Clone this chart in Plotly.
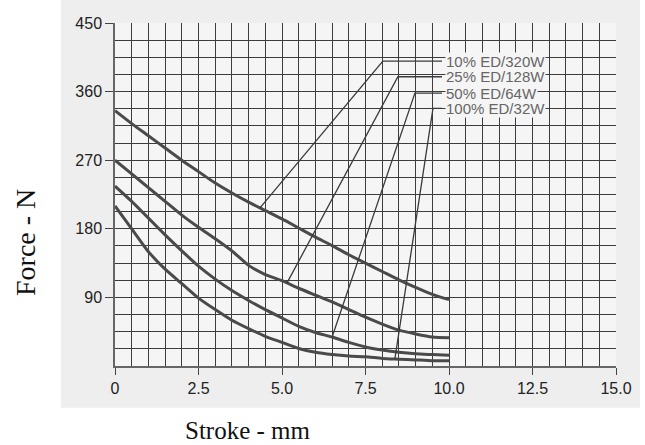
import numpy as np
import plotly.graph_objects as go

# ---- data ----
stroke_mm = [0, 0.5, 1, 1.5, 2, 2.5, 3, 3.5, 4, 4.5, 5, 5.5, 6, 6.5, 7, 7.5, 8, 8.5, 9, 9.5, 10]
force_10 = [335, 318, 302, 286, 270, 255, 240, 227, 215, 204, 193, 181, 169, 158, 146, 135, 124, 113, 103, 94, 87]
force_25 = [270, 252, 234, 216, 198, 182, 167, 151, 132, 120, 112, 102, 93, 84, 74, 64, 55, 47, 42, 38, 37]
force_50 = [236, 216, 194, 172, 151, 131, 114, 99, 86, 74, 63, 52, 44, 38, 31, 25, 21, 18, 16, 15, 14]
force_100 = [210, 180, 150, 127, 108, 89, 74, 60, 49, 39, 31, 23, 18, 15, 13, 12, 10, 9, 8, 7, 7]

series_labels = ["10% ED/320W", "25% ED/128W", "50% ED/64W", "100% ED/32W"]
leader_from_x = [4.34, 5.15, 6.5, 8.38]
leader_bend_x = [8.02, 8.47, 8.98, 9.52]
leader_level = [400, 379.5, 358, 338]
leader_end_x = 9.79
label_x = 9.88

x_tickvals = [0, 2.5, 5, 7.5, 10, 12.5, 15]
x_ticktext = ["0", "2.5", "5.0", "7.5", "10.0", "12.5", "15.0"]
y_tickvals = [90, 180, 270, 360, 450]

curve_color = "#4a4a4a"
grid_color = "#3c3c3c"
plot_bg = "#f5f5f5"
scan_bg = "#eeeeee"

fig = go.Figure()
all_series = [force_10, force_25, force_50, force_100]
for name, ys in zip(series_labels, all_series):
    fig.add_trace(go.Scatter(x=stroke_mm, y=ys, mode="lines", name=name,
                             line=dict(color=curve_color, width=3, shape="spline", smoothing=0.6),
                             showlegend=False, hoverinfo="skip"))

for i, ys in enumerate(all_series):
    x0 = leader_from_x[i]
    y0 = float(np.interp(x0, stroke_mm, ys))
    fig.add_trace(go.Scatter(x=[x0, leader_bend_x[i], leader_end_x],
                             y=[y0, leader_level[i], leader_level[i]],
                             mode="lines", line=dict(color="#3a3a3a", width=1.3),
                             showlegend=False, hoverinfo="skip"))
    fig.add_annotation(x=label_x, y=leader_level[i], xref="x", yref="y",
                       text=series_labels[i], showarrow=False, xanchor="left", yanchor="middle",
                       font=dict(family="Liberation Sans, Arial", size=15, color="#666666"),
                       bgcolor=plot_bg, borderpad=0)

# scanned-paper background
fig.add_shape(type="rect", xref="paper", yref="paper", x0=-0.108, x1=1.048, y0=-0.122, y1=1.07,
              fillcolor=scan_bg, line=dict(width=0), layer="below")
fig.add_shape(type="rect", xref="paper", yref="paper", x0=0, x1=1, y0=0, y1=1,
              fillcolor=plot_bg, line=dict(width=0), layer="below")

fig.add_annotation(text="Stroke - mm", xref="paper", yref="paper", x=(248 - 115) / 501, y=(366 - 430) / 343,
                   showarrow=False, xanchor="center", yanchor="middle",
                   font=dict(family="Liberation Serif, Times New Roman", size=25, color="#111111"))
fig.add_annotation(text="Force - N", xref="paper", yref="paper", x=(25 - 115) / 501, y=(366 - 243) / 343,
                   showarrow=False, xanchor="center", yanchor="middle", textangle=-90,
                   font=dict(family="Liberation Serif, Times New Roman", size=28, color="#111111"))

tick_font = dict(family="Liberation Sans, Arial", size=16, color="#222222")
fig.update_xaxes(range=[0, 15], tickvals=x_tickvals, ticktext=x_ticktext, ticks="outside", ticklen=7,
                 tickcolor="#444", tickwidth=1.2, showgrid=True, gridcolor=grid_color, gridwidth=1.2,
                 minor=dict(dtick=0.5, showgrid=True, gridcolor=grid_color, gridwidth=1.2),
                 showline=True, linecolor="#666", linewidth=1.5, zeroline=False, tickfont=tick_font,
                 fixedrange=True, automargin=False)
fig.update_yaxes(range=[0, 450], tickvals=y_tickvals, ticks="outside", ticklen=8,
                 tickcolor="#444", tickwidth=1.2, showgrid=True, gridcolor=grid_color, gridwidth=1.2,
                 minor=dict(dtick=22.5, showgrid=True, gridcolor=grid_color, gridwidth=1.2),
                 showline=True, linecolor="#666", linewidth=1.5, zeroline=False, tickfont=tick_font,
                 fixedrange=True, automargin=False)

fig.update_layout(width=645, height=445, margin=dict(l=115, r=29, t=23, b=79),
                  paper_bgcolor="white", plot_bgcolor="rgba(0,0,0,0)", showlegend=False)

fig.write_html("out.html", config={"displayModeBar": False},
               post_script="document.body.style.margin='0';document.body.style.overflow='hidden';")
